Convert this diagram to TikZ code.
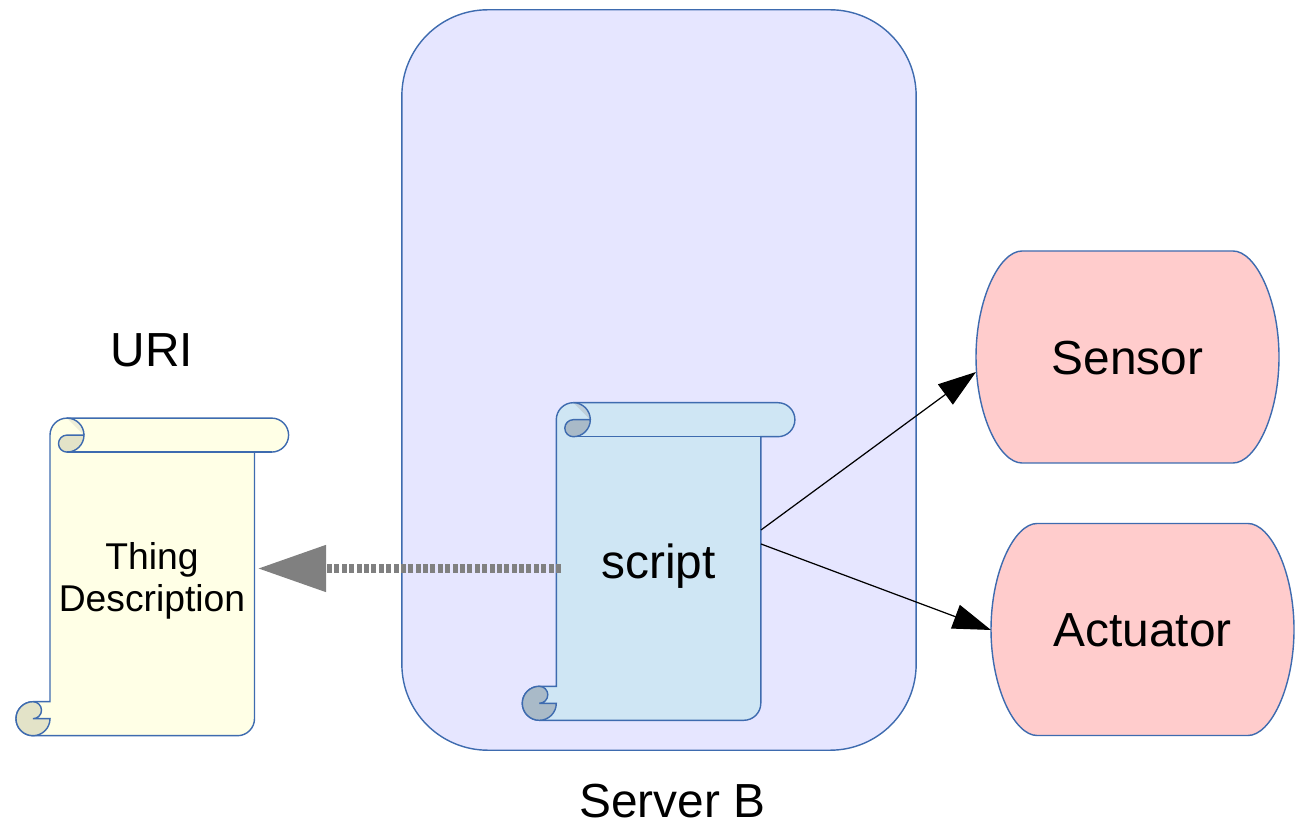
\documentclass[tikz,border=0pt]{standalone}
\usepackage{fontspec}
\setmainfont{Liberation Sans}
\usetikzlibrary{arrows.meta}

\definecolor{outline}{HTML}{3E6BAF}
\definecolor{serverfill}{HTML}{E6E6FF}
\definecolor{devicefill}{HTML}{FFCCCC}
\definecolor{tdfill}{HTML}{FFFFE6}
\definecolor{tdcurl}{HTML}{E3E3C8}
\definecolor{tdfold}{HTML}{EEEED8}
\definecolor{scriptfill}{HTML}{CFE6F4}
\definecolor{scriptcurl}{HTML}{A9BAC8}
\definecolor{scriptfold}{HTML}{BFCFDA}

\tikzset{
    shapeline/.style={draw=outline, line width=0.4pt},
    bigtext/.style={font=\fontsize{13.6}{16}\selectfont, text=black, inner sep=0pt},
    smalltext/.style={font=\fontsize{10.6}{11.95}\selectfont, text=black, inner sep=0pt, align=center},
    serverbox/.style={shapeline, fill=serverfill, rounded corners=0.86cm, minimum width=5.14cm, minimum height=7.4cm, inner sep=0pt},
    linkarrow/.style={-{Triangle[length=0.38cm,width=0.25cm]}, line width=0.35pt, black},
    fetcharrow/.style={-{Triangle[length=0.68cm,width=0.45cm]}, line width=2.3pt, dash pattern=on 1.42pt off 0.68pt, color=gray}
}

% scroll: x, y of lower left corner, then body, curl and fold colours
\newcommand{\drawscroll}[5]{
    \begin{scope}[shift={(#1,#2)}]
        \fill[shapeline, fill=#3] (51,317.6) -- (255.6,317.6) arc (90:-90:17) -- (238.5,283.6) -- (238.5,17)
            arc (0:-90:17) -- (17,0) arc (270:90:17) -- (34,34) -- (34,300.6) arc (180:90:17) -- cycle;
        \fill[#5] (51,317.6) arc (90:0:17) -- cycle;
        \fill[shapeline, fill=#4] (68,300.6) arc (0:-90:17) arc (270:90:8.5) -- cycle;
        \draw[shapeline] (51,317.6) arc (90:0:17);
        \draw[shapeline] (51,283.6) -- (255.6,283.6);
        \fill[shapeline, fill=#4] (17,34) arc (90:270:17) arc (-90:0:17) -- (17,17) arc (-90:90:8.5) -- cycle;
    \end{scope}
}

% device: centre x, y, name, text
\newcommand{\drawdevice}[4]{
    \begin{scope}[shift={(#1,#2)}]
        \fill[shapeline, fill=devicefill] (-105.5,106) -- (105.5,106)
            .. controls (128,106) and (151.5,58) .. (151.5,0)
            .. controls (151.5,-58) and (128,-106) .. (105.5,-106)
            -- (-105.5,-106)
            .. controls (-128,-106) and (-151.5,-58) .. (-151.5,0)
            .. controls (-151.5,58) and (-128,106) .. (-105.5,106) -- cycle;
        \node[bigtext] (#3) at (0,-1) {#4};
    \end{scope}
}

\begin{document}
\begin{tikzpicture}[x=0.01cm, y=0.01cm]
    \useasboundingbox (0,0) rectangle (1300,821);

    % Server
    \node[serverbox] (server) at (659,441) {};
    \node[bigtext] (serverlabel) at (672.5,20) {Server B};

    % Scrolls
    \drawscroll{16}{85.3}{tdfill}{tdcurl}{tdfold}
    \drawscroll{522.3}{100.7}{scriptfill}{scriptcurl}{scriptfold}
    \node[bigtext] (uri) at (152,471) {URI};
    \node[smalltext] (thing) at (152,240) {Thing\\Description};
    \node[bigtext] (script) at (658.5,255) {script};

    % Devices
    \drawdevice{1127.5}{464}{sensor}{Sensor}
    \drawdevice{1142.5}{191.5}{actuator}{Actuator}

    % Connector ends
    \coordinate (scriptup) at (761,291);
    \coordinate (scriptdown) at (761,277);
    \coordinate (sensorin) at (976,449);
    \coordinate (actuatorin) at (991,191);
    \coordinate (scriptout) at (561,252.5);
    \coordinate (thingin) at (258,252.5);

    \draw[linkarrow] (scriptup) -- (sensorin);
    \draw[linkarrow] (scriptdown) -- (actuatorin);
    \draw[fetcharrow] (scriptout) -- (thingin);
\end{tikzpicture}
\end{document}
